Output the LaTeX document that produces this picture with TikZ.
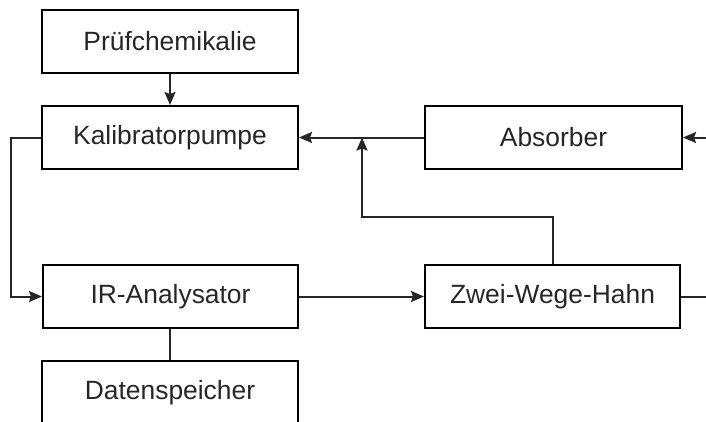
\documentclass[tikz,border=0pt]{standalone}
\usepackage{fontspec}
\setmainfont{Liberation Sans}
\usetikzlibrary{arrows.meta,calc}
\begin{document}
\begin{tikzpicture}[x=1bp,y=-1bp,
  box/.style={draw,line width=2bp,minimum width=256bp,minimum height=63bp,inner sep=0pt,
    font=\fontsize{26.5}{30}\selectfont,text=black!85},
  conn/.style={line width=2bp,draw=black!85},
  arr/.style={conn,-{Stealth[length=13bp,width=11bp,inset=2bp]}}]
\useasboundingbox (0,0) rectangle (706,421);
\clip (0,0) rectangle (706,421);
\node[box] (P) at (170,41.5) {Prüfchemikalie};
\node[box] (K) at (170,137.5) {Kalibratorpumpe};
\node[box,minimum width=255bp] (I) at (170.5,296.5) {IR-Analysator};
\node[box] (D) at (170,392.5) {Datenspeicher};
\node[box,minimum width=257bp] (A) at (553.5,137.5) {Absorber};
\node[box,minimum width=255bp] (Z) at (552.5,296.5) {Zwei-Wege-Hahn};
\coordinate (rin) at (712,137.5);
\coordinate (rout) at (712,296.5);
\coordinate (j) at (362,137.5);
\coordinate (t) at (362,217);
\coordinate (l) at (11,137.5);
\draw[arr] (P.south) -- (K.north);
\draw[arr] (A.west) -- (K.east);
\draw[arr] (Z.north) |- (t) -- (j);
\draw[arr] (I.east) -- (Z.west);
\draw[arr] (K.west) -- (l) |- (I.west);
\draw[conn] (D.north |- I.south) -- (D.north);
\draw[arr] (rin) -- (A.east);
\draw[conn] (Z.east) -- (rout);
\end{tikzpicture}
\end{document}
